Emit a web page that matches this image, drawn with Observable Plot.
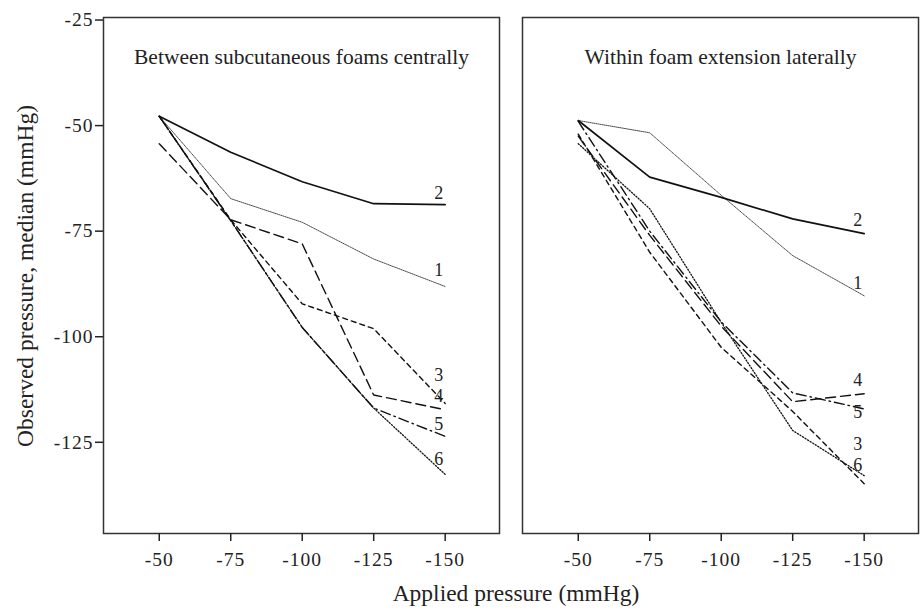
<!DOCTYPE html>
<html><head><meta charset="utf-8">
<script src="https://cdn.jsdelivr.net/npm/d3@7"></script>
<script src="https://cdn.jsdelivr.net/npm/@observablehq/plot@0.6"></script>
<style>
body{margin:0;background:#fff}
#chart{width:920px;height:611px}
#chart svg text{font-family:'Liberation Serif','Times New Roman',serif}
#chart svg g[aria-label$="tick label"], #chart svg g[aria-label$="tick label"] text{font-size:19.5px !important;letter-spacing:1px}
</style>
</head><body><div id="chart"></div>
<script>
// ---- data ----
const applied = [-50, -75, -100, -125, -150];
const panels = ["Between subcutaneous foams centrally", "Within foam extension laterally"];
const seriesIds = ["1", "2", "3", "4", "5", "6"];
const centralValues = [
  [-47.8, -67.3, -72.9, -81.6, -88.1],
  [-47.8, -56.3, -63.3, -68.5, -68.7],
  [-47.8, -72.3, -92.2, -98.1, -115.8],
  [-54.3, -72.3, -78.0, -113.8, -117.3],
  [-47.8, -72.5, -97.8, -116.9, -123.6],
  [-47.8, -72.5, -97.8, -116.9, -132.6]
];
const lateralValues = [
  [-48.8, -51.7, -66.5, -80.8, -90.3],
  [-48.8, -62.2, -67.0, -72.1, -75.6],
  [-52.0, -80.0, -102.5, -117.7, -134.8],
  [-52.5, -76.0, -97.5, -115.4, -113.5],
  [-49.0, -75.0, -96.5, -113.3, -117.1],
  [-54.3, -69.7, -96.6, -122.2, -132.9]
];
const centralLabelY = [-84.3, -66.1, -109.2, -114.2, -120.8, -128.9];
const lateralLabelY = [-87.4, -72.5, -125.4, -110.4, -117.9, -130.4];
const xTicks = [-50, -75, -100, -125, -150];
const yTicks = [-25, -50, -75, -100, -125];

// ---- tables ----
const rows = [];
[centralValues, lateralValues].forEach((vals, p) =>
  vals.forEach((arr, s) => arr.forEach((v, i) =>
    rows.push({panel: panels[p], series: seriesIds[s], x: applied[i], y: v}))));
const labels = [];
[centralLabelY, lateralLabelY].forEach((arr, p) =>
  arr.forEach((v, s) => labels.push({panel: panels[p], series: seriesIds[s], x: applied[applied.length - 1], y: v})));

const styles = {
  "1": {stroke: "#333", strokeWidth: 0.9, strokeDasharray: "1,1"},
  "2": {stroke: "#111", strokeWidth: 1.7},
  "3": {stroke: "#111", strokeWidth: 1.4, strokeDasharray: "5,4"},
  "4": {stroke: "#111", strokeWidth: 1.4, strokeDasharray: "10,5"},
  "5": {stroke: "#111", strokeWidth: 1.4, strokeDasharray: "10,4,1.5,4"},
  "6": {stroke: "#111", strokeWidth: 1.3, strokeDasharray: "1.2,1.8"}
};

const marks = [
  Plot.frame({stroke: "#333", strokeWidth: 1.5}),
  Plot.axisX({ticks: xTicks, tickSize: 8, tickPadding: 11, fontSize: 19.5, label: null, tickFormat: d => String(d), stroke: "#222", strokeWidth: 1.5}),
  Plot.axisY({ticks: yTicks, tickSize: 8, tickPadding: 2, fontSize: 19.5, label: null, tickFormat: d => String(d), stroke: "#222", strokeWidth: 1.5})
];
seriesIds.forEach(id => marks.push(
  Plot.line(rows.filter(d => d.series === id), {x: "x", y: "y", fx: "panel", ...styles[id]})));
marks.push(Plot.text(labels, {x: "x", y: "y", fx: "panel", text: "series", textAnchor: "end", dx: -2, fontSize: 18, fill: "#222"}));
marks.push(Plot.text(panels, {fx: d => d, text: d => d, frameAnchor: "top", dy: 31, fontSize: 21.5, fill: "#222"}));

const svg = Plot.plot({
  width: 920, height: 611,
  marginLeft: 103, marginRight: 2, marginTop: 17, marginBottom: 78,
  style: {fontFamily: "'Liberation Serif', 'Times New Roman', serif", fontSize: "18px", color: "#222", background: "#fff"},
  fx: {domain: panels, axis: null, paddingInner: 0.0549, paddingOuter: 0},
  x: {domain: [-30.5, -169], axis: null},
  y: {domain: [-146.6, -24.4], axis: null},
  marks
});

const s = d3.select(svg);
s.append("text")
  .attr("transform", "translate(25,276) rotate(-90)")
  .attr("text-anchor", "middle").attr("dy", "0.35em")
  .attr("font-size", 23.5).attr("fill", "#222")
  .text("Observed pressure, median (mmHg)");
s.append("text")
  .attr("x", 516).attr("y", 601)
  .attr("text-anchor", "middle")
  .attr("font-size", 23.5).attr("fill", "#222")
  .text("Applied pressure (mmHg)");

document.getElementById("chart").appendChild(svg);
</script>
</body></html>
